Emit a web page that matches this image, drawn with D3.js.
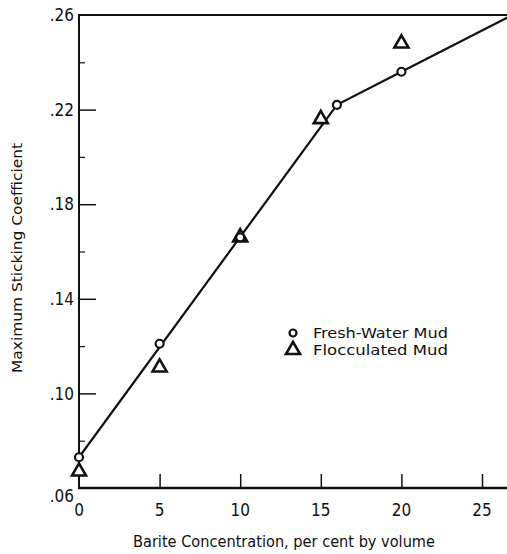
<!DOCTYPE html>
<html>
<head>
<meta charset="utf-8">
<script src="https://cdn.jsdelivr.net/npm/d3@7"></script>
<style>
  body { margin: 0; background: #fff; }
  svg { display: block; }
  text { font-family: "DejaVu Sans Condensed", "DejaVu Sans", sans-serif; fill: #111; }
</style>
</head>
<body>
<svg id="chart"></svg>
<script>
// fresh-water mud (circles)
const freshX = [0, 5, 10, 16, 20];
const freshY = [0.073, 0.121, 0.166, 0.222, 0.236];
// flocculated mud (triangles)
const flocX = [0, 5, 10, 15, 20];
const flocY = [0.067, 0.111, 0.166, 0.216, 0.248];
// fitted curve
const curveX = [0, 16, 20, 26.6];
const curveY = [0.073, 0.222, 0.236, 0.259];

const yMajor = [0.26, 0.22, 0.18, 0.14, 0.10, 0.06];
const yMinor = [0.24, 0.20, 0.16, 0.12, 0.08];
const xTicks = [0, 5, 10, 15, 20, 25];

const width = 507, height = 554;
const svg = d3.select("#chart").attr("width", width).attr("height", height);

const x = d3.scaleLinear().domain([0, 26.55]).range([79, 507]);
const y = d3.scaleLinear().domain([0.06, 0.26]).range([488, 15]);

const fmtY = d => d3.format(".2f")(d).replace(/^0/, "");

// top border
svg.append("line").attr("x1", x(0)).attr("x2", width).attr("y1", y(0.26)).attr("y2", y(0.26))
  .attr("stroke", "#111").attr("stroke-width", 2);

// minor y ticks
svg.append("g").attr("transform", `translate(${x(0)},0)`)
  .call(d3.axisLeft(y).tickValues(yMinor).tickSize(-6).tickFormat(""))
  .call(g => g.select(".domain").remove())
  .call(g => g.selectAll("line").attr("stroke", "#111").attr("stroke-width", 1.2));

// major y ticks
svg.append("g").attr("transform", `translate(${x(0)},0)`)
  .call(d3.axisLeft(y).tickValues(yMajor.filter(v => v !== 0.26 && v !== 0.06)).tickSize(-17).tickFormat(""))
  .call(g => g.select(".domain").remove())
  .call(g => g.selectAll("line").attr("stroke", "#111").attr("stroke-width", 1.5));

// y labels
svg.append("g").selectAll("text").data(yMajor).join("text")
  .attr("x", 74)
  .attr("y", d => y(d) + (d === 0.06 ? 8 : 0))
  .attr("dy", "0.36em")
  .attr("text-anchor", "end")
  .attr("font-size", 17)
  .text(fmtY);

svg.append("line").attr("x1", x(0)).attr("x2", x(0)).attr("y1", y(0.26) - 1).attr("y2", y(0.06))
  .attr("stroke", "#111").attr("stroke-width", 2);

// x axis
svg.append("g").attr("transform", `translate(0,${y(0.06)})`)
  .call(d3.axisBottom(x).tickValues(xTicks.filter(v => v > 0)).tickSize(-14).tickFormat(""))
  .call(g => g.select(".domain").remove())
  .call(g => g.selectAll("line").attr("stroke", "#111").attr("stroke-width", 1.5));

svg.append("line").attr("x1", x(0) - 1).attr("x2", width).attr("y1", y(0.06)).attr("y2", y(0.06))
  .attr("stroke", "#111").attr("stroke-width", 2.5);

svg.append("g").selectAll("text").data(xTicks).join("text")
  .attr("x", d => x(d))
  .attr("y", 510)
  .attr("dy", "0.36em")
  .attr("text-anchor", "middle")
  .attr("font-size", 17)
  .text(d => d);

// axis titles
svg.append("text")
  .attr("x", 284).attr("y", 542).attr("dy", "0.36em")
  .attr("text-anchor", "middle").attr("font-size", 15)
  .attr("textLength", 302).attr("lengthAdjust", "spacingAndGlyphs")
  .text("Barite Concentration, per cent by volume");

svg.append("text")
  .attr("transform", "translate(17,258) rotate(-90)")
  .attr("dy", "0.36em")
  .attr("text-anchor", "middle").attr("font-size", 14)
  .attr("textLength", 230).attr("lengthAdjust", "spacingAndGlyphs")
  .text("Maximum Sticking Coefficient");

// curve
const line = d3.line().x(d => x(d[0])).y(d => y(d[1]));
svg.append("path")
  .datum(d3.zip(curveX, curveY))
  .attr("d", line)
  .attr("fill", "none").attr("stroke", "#111").attr("stroke-width", 2.2);

// markers
const tri = d3.symbol().type(d3.symbolTriangle).size(85);
svg.append("g").selectAll("path").data(d3.zip(flocX, flocY)).join("path")
  .attr("transform", d => `translate(${x(d[0])},${y(d[1])})`)
  .attr("d", tri)
  .attr("fill", "#fff").attr("stroke", "#111").attr("stroke-width", 2.6);

svg.append("g").selectAll("circle").data(d3.zip(freshX, freshY)).join("circle")
  .attr("cx", d => x(d[0])).attr("cy", d => y(d[1]))
  .attr("r", 4)
  .attr("fill", "#fff").attr("stroke", "#111").attr("stroke-width", 2.2);

// legend
const legend = svg.append("g");
legend.append("circle").attr("cx", 293).attr("cy", 333).attr("r", 3.5)
  .attr("fill", "#fff").attr("stroke", "#111").attr("stroke-width", 2.2);
legend.append("path").attr("transform", "translate(293,350)").attr("d", tri)
  .attr("fill", "#fff").attr("stroke", "#111").attr("stroke-width", 2.6);
legend.append("text").attr("x", 313).attr("y", 333).attr("dy", "0.36em")
  .attr("font-size", 14).attr("textLength", 135).attr("lengthAdjust", "spacingAndGlyphs")
  .text("Fresh-Water Mud");
legend.append("text").attr("x", 313).attr("y", 350).attr("dy", "0.36em")
  .attr("font-size", 14).attr("textLength", 135).attr("lengthAdjust", "spacingAndGlyphs")
  .text("Flocculated Mud");
</script>
</body>
</html>
